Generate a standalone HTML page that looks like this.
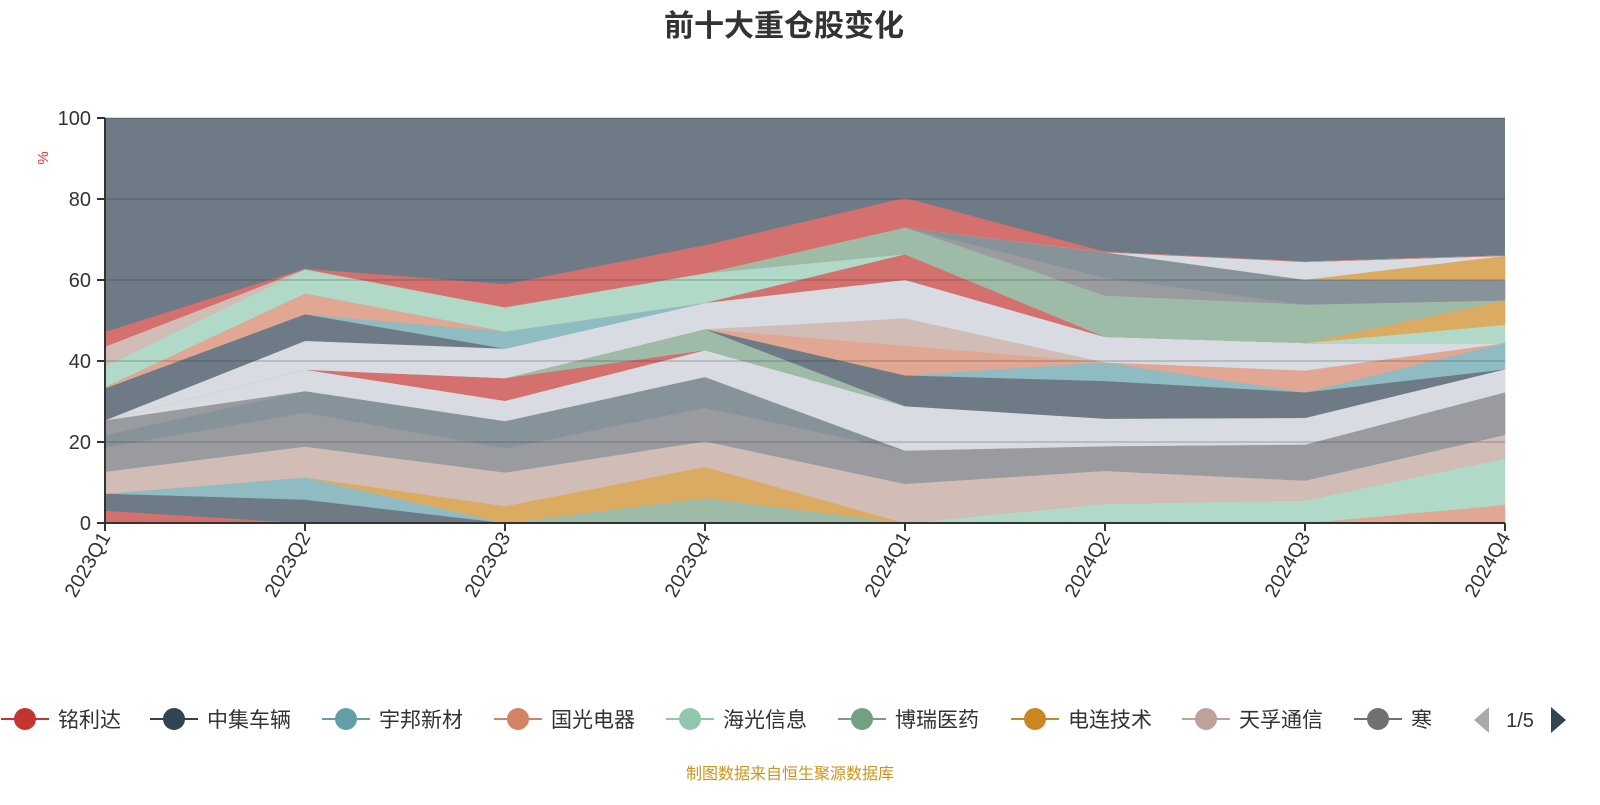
<!DOCTYPE html>
<html><head><meta charset="utf-8">
<style>
html,body{margin:0;padding:0;background:#fff;}
body{width:1600px;height:800px;overflow:hidden;font-family:"Liberation Sans","Noto Sans CJK SC",sans-serif;}
svg text{font-family:"Liberation Sans","Noto Sans CJK SC",sans-serif;}
</style></head>
<body>
<svg id="chart" width="1600" height="800" xmlns="http://www.w3.org/2000/svg">
<text x="784" y="36" text-anchor="middle" font-size="30" font-weight="bold" fill="#333">前十大重仓股变化</text>
<text x="48" y="158" font-size="15" fill="#e03030" text-anchor="middle" transform="rotate(-90 48 158)">%</text>
<g id="areas"></g>
<g id="grid"></g>
<g id="axes"></g>
<g id="legend"></g>
<text x="790" y="779" text-anchor="middle" font-size="16" fill="#c8961e">制图数据来自恒生聚源数据库</text>
</svg>
<script>
const categories = ["2023Q1","2023Q2","2023Q3","2023Q4","2024Q1","2024Q2","2024Q3","2024Q4"];
const yTicks = [0,20,40,60,80,100];
const C = {red:"#d4706d",slate:"#6e7b87",teal:"#8fbbc2",salmon:"#e2a792",mint:"#b1d9c7",gg:"#9ebba8",orange:"#dcab62",pink:"#d1bcb6",gray:"#9a9b9e",steel:"#86939a",light:"#d8dce2"};
const seriesColors = ["red","slate","teal","salmon","gg","mint","orange","pink","gray","steel","gray","light","red","gg","slate","teal","salmon","pink","light","slate","teal","salmon","red","mint","orange","gg","gray","steel","orange","light","pink","red"];
const s01 = [3.1,0,0,0,0,0,0,0];
const s02 = [4.2,5.8,0,0,0,0,0,0];
const s03 = [0,5.5,0,0,0,0,0,0];
const s04 = [0,0,0,0,0,0,0,4.5];
const s05 = [0,0,0,6.2,0,0,0,0];
const s06 = [0,0,0,0,0,4.8,5.6,11.5];
const s07 = [0,0,4.2,7.7,0,0,0,0];
const s08 = [5.4,7.6,8.3,6.3,9.7,8.1,4.9,5.8];
const s09 = [6,8.4,6,8.3,8.2,6.1,8.9,10.5];
const s10 = [3.1,5.3,6.7,7.6,0,0,0,0];
const s11 = [3.6,0,0,0,0,0,0,0];
const s12 = [0,5.3,5,6.6,11,6.8,6.6,5.7];
const s13 = [0,0,5.6,0,0,0,0,0];
const s14 = [0,0,0,5.2,0,0,0,0];
const s15 = [0,0,0,0,7.6,9.3,6.3,0];
const s16 = [0,0,0,0,0,4.6,0,6.5];
const s17 = [0,0,0,0,7.3,0,5.4,0];
const s18 = [0,0,0,0,6.8,0,0,0];
const s19 = [0,7.1,7.3,6.5,9.5,6.3,6.8,0];
const s20 = [7.9,6.6,0,0,0,0,0,0];
const s21 = [0,0,4.2,0,0,0,0,0];
const s22 = [0.3,5.1,0,0,0,0,0,0];
const s23 = [0,0,0,0,6.3,0,0,0];
const s24 = [5.2,6,6,7.3,0,0,0,4.5];
const s25 = [0,0,0,0,0,0,0,6];
const s26 = [0,0,0,0,6.6,10.2,9.5,0];
const s27 = [0,0,0,0,0,4.4,0,0];
const s28 = [0,0,0,0,0,6.3,6.1,5];
const s29 = [0,0,0,0,0,0,0,6];
const s30 = [0,0,0,0,0,0,4.4,0];
const s31 = [4.8,0,0,0,0,0,0,0];
const s32 = [3.5,0,5.6,6.8,7.2,0,0,0];
const series = [s01,s02,s03,s04,s05,s06,s07,s08,s09,s10,s11,s12,s13,s14,s15,s16,s17,s18,s19,s20,s21,s22,s23,s24,s25,s26,s27,s28,s29,s30,s31,s32];
const legendNames = ["铭利达","中集车辆","宇邦新材","国光电器","海光信息","博瑞医药","电连技术","天孚通信","寒武纪"];
const legendColors = ["#c23531","#2f4554","#61a0a8","#d48265","#91c7ae","#749f83","#ca8622","#bda29a","#6e7074"];

const NS="http://www.w3.org/2000/svg";
const X0=105,X1=1505,Y0=523,Y1=118;
const xs=i=>X0+(X1-X0)*i/(categories.length-1);
const ys=v=>Y0-(Y0-Y1)*v/100;
function mk(tag,attrs,parent){const e=document.createElementNS(NS,tag);for(const k in attrs)e.setAttribute(k,attrs[k]);parent.appendChild(e);return e;}
const areas=document.getElementById('areas');
const bg=mk('rect',{x:X0,y:Y1,width:X1-X0,height:Y0-Y1,fill:C.slate},areas);


let base=categories.map(()=>0);
series.forEach((s,si)=>{
  const top=base.map((b,i)=>b+s[i]);
  let d='';
  top.forEach((v,i)=>{d+=(i?'L':'M')+xs(i)+' '+ys(v)+' ';});
  for(let i=base.length-1;i>=0;i--)d+='L'+xs(i)+' '+ys(base[i])+' ';
  d+='Z';
  const p=mk('path',{d:d,fill:C[seriesColors[si]],stroke:C[seriesColors[si]],'stroke-width':0.6},areas);
  
  
  base=top;
});
const grid=document.getElementById('grid');
yTicks.forEach(t=>{
  if(t===0)return;
  const l=mk('line',{x1:X0,x2:X1,y1:ys(t),y2:ys(t),stroke:'rgba(40,50,60,0.25)','stroke-width':1.5},grid);
  
  
});
const axes=document.getElementById('axes');
const ya=mk('line',{x1:X0,x2:X0,y1:Y1,y2:Y0,stroke:'#333','stroke-width':2},axes);


const xa=mk('line',{x1:X0,x2:X1,y1:Y0,y2:Y0,stroke:'#333','stroke-width':2},axes);


yTicks.forEach(t=>{
  const tk=mk('line',{x1:X0-8,x2:X0,y1:ys(t),y2:ys(t),stroke:'#333','stroke-width':2},axes);
  
  
  const tx=mk('text',{x:X0-14,y:ys(t)+7,'text-anchor':'end','font-size':20,fill:'#333'},axes);
  tx.textContent=t;
  
  
});
categories.forEach((c,i)=>{
  const x=xs(i);
  const tk=mk('line',{x1:x,x2:x,y1:Y0,y2:Y0+8,stroke:'#333','stroke-width':2},axes);
  
  
  const tx=mk('text',{x:x+6,y:Y0+14,'text-anchor':'end','font-size':20,fill:'#333',transform:'rotate(-60 '+(x+6)+' '+(Y0+14)+')'},axes);
  tx.textContent=c;
  
  
});
const legend=document.getElementById('legend');
const lx=[25,174,346,518,690,862,1035,1206,1378];
legendNames.forEach((n,i)=>{
  const g=mk('g',{},legend);
  
  
  mk('line',{x1:lx[i]-24,x2:lx[i]+24,y1:719,y2:719,stroke:legendColors[i],'stroke-width':2},g);
  mk('circle',{cx:lx[i],cy:719,r:11,fill:legendColors[i]},g);
  const t=mk('text',{x:lx[i]+33,y:727,'font-size':21,fill:'#333'},g);
  t.textContent=n;
});
const clip=mk('rect',{x:1432,y:695,width:168,height:50,fill:'#fff'},legend);


const prev=mk('polygon',{points:'1489,707 1489,733 1474,720',fill:'#aaa'},legend);


const pg=mk('text',{x:1520,y:727,'text-anchor':'middle','font-size':20,fill:'#333'},legend);
pg.textContent='1/5';


const next=mk('polygon',{points:'1551,707 1551,733 1566,720',fill:'#2f4554'},legend);


</script>
</body></html>
